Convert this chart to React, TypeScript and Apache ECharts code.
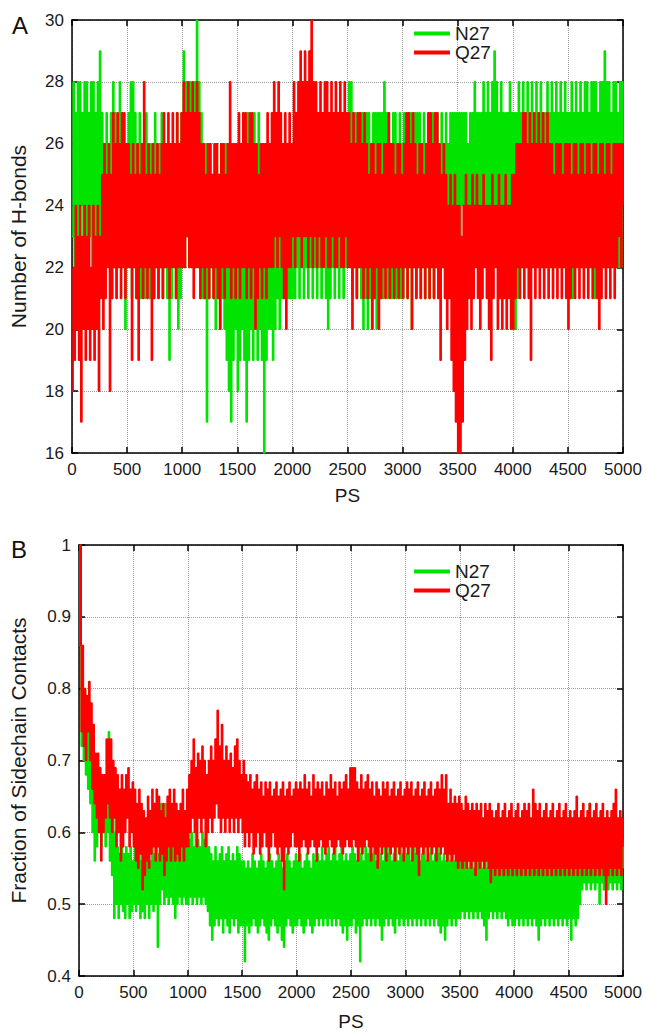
import React, { useEffect, useRef } from "react";
import * as echarts from "echarts";

// sampling interval of the traces (ps); samples alternate between the trough and crest of the fast fluctuations
const TIME_STEP_PS = 10;
const seriesNames = ["N27", "Q27"];
const FONT = "'Liberation Sans', Arial, Helvetica, sans-serif";

// Panel A: number of H-bonds (one row = 500 ps)
const hbondN27 = [
  23,28,22,27,23,28,22,28,24,27,22,28,23,28,22,27,23,28,22,28,23,27,22,28,23,29,22,27,22,26,22,27,23,26,22,27,22,28,22,27,21,26,22,28,22,27,22,26,20,26,
  22,27,22,28,21,28,22,27,21,26,22,27,21,26,22,26,21,27,22,26,21,26,22,26,21,27,22,26,21,26,22,27,21,26,22,26,21,26,19,26,21,26,22,26,21,27,20,26,21,27,
  22,29,22,28,23,28,22,28,22,27,22,28,22,30,22,28,21,27,21,26,21,26,17,26,21,26,22,25,21,26,20,26,21,25,20,26,21,26,20,26,19,26,18,25,17,26,19,26,20,25,
  18,26,19,26,20,27,19,26,17,27,19,26,20,26,19,27,20,26,19,27,20,26,19,26,16,26,19,26,20,25,20,26,19,25,20,26,21,26,20,26,21,26,21,25,21,26,21,26,21,25,
  21,26,21,27,22,26,21,26,22,27,21,26,22,26,21,27,22,26,21,26,22,27,21,26,22,26,21,27,22,26,21,26,20,27,21,26,22,26,21,27,22,27,21,26,22,27,21,27,22,27,
  22,28,22,28,21,27,22,27,21,26,22,27,21,27,20,27,21,27,20,27,21,26,20,27,21,27,20,27,21,27,21,27,21,28,22,27,21,27,22,26,21,27,22,27,21,26,22,27,21,26,
  21,27,22,26,21,27,22,27,20,26,22,27,21,27,22,27,21,26,22,27,21,26,22,27,21,26,22,27,21,26,22,27,21,26,22,27,22,26,22,27,22,26,23,27,22,27,23,27,23,27,
  23,27,23,27,24,27,23,27,21,26,24,27,23,27,24,28,23,27,24,27,23,27,24,28,23,27,24,28,23,27,24,28,23,29,24,28,23,27,24,28,23,27,24,27,23,27,24,28,23,27,
  22,27,20,27,21,28,22,27,22,28,22,27,22,28,22,27,22,28,22,27,22,28,22,27,22,28,22,27,22,27,22,28,22,27,22,28,22,27,22,28,22,27,22,28,22,27,22,28,22,27,
  22,27,22,28,21,27,22,28,22,27,22,28,22,27,22,28,22,28,22,27,22,28,22,28,21,28,22,27,22,28,22,28,22,29,22,28,22,28,22,27,22,28,22,28,22,27,22,28,22,28,
  26,
];
const hbondQ27 = [
  18,22,19,24,20,23,19,24,17,23,20,24,19,23,20,24,19,22,20,24,19,23,20,24,18,23,21,25,20,26,21,25,22,26,18,25,21,27,22,26,21,27,22,26,21,27,22,27,21,26,
  22,26,22,25,19,26,22,25,21,26,19,25,22,26,21,28,22,25,21,26,22,25,19,26,21,25,22,26,21,25,22,26,21,27,22,26,22,27,21,26,22,27,22,26,21,27,22,26,22,27,
  22,28,22,27,23,28,22,27,22,28,21,27,22,28,22,27,21,26,22,26,21,25,22,26,21,26,22,25,21,26,22,26,21,25,20,26,22,26,21,25,22,26,22,28,21,26,22,26,21,26,
  22,27,21,26,22,27,22,27,21,26,22,27,21,27,22,26,20,26,21,25,22,26,21,26,22,26,21,27,22,26,22,27,22,28,23,27,22,28,23,27,22,26,21,27,20,26,22,27,22,26,
  23,28,22,27,23,28,23,29,22,28,23,29,23,28,22,29,23,30,22,28,23,28,22,27,23,28,22,27,22,28,23,28,22,27,22,28,23,27,22,28,22,27,23,28,22,27,22,28,23,27,
  22,27,22,26,20,27,22,26,21,27,22,27,22,26,21,27,22,26,21,25,22,26,20,26,21,25,22,26,20,26,21,25,22,26,21,26,22,27,21,26,22,26,21,25,22,26,21,26,22,25,
  21,26,22,27,21,27,22,26,20,27,22,26,21,25,22,26,21,26,22,25,21,26,22,27,21,27,22,26,21,27,22,27,21,26,19,25,22,26,21,25,20,24,21,25,19,24,18,25,17,24,
  16,24,16,23,17,24,19,25,20,24,21,24,20,25,21,24,22,25,21,24,20,24,21,25,22,24,21,24,20,24,19,25,21,24,22,24,20,25,21,24,20,24,21,25,20,24,21,24,20,25,
  20,25,21,26,22,26,21,26,22,27,21,27,22,26,21,27,19,26,22,27,21,26,22,27,21,26,22,27,21,26,22,27,21,26,22,26,21,25,22,26,21,26,22,26,21,25,22,26,21,26,
  20,26,21,25,22,26,21,26,22,25,21,26,22,26,21,25,22,26,21,26,22,25,21,26,22,26,21,25,20,26,21,26,22,25,21,26,22,26,21,25,22,26,21,26,22,26,23,26,22,26,
  24,
];

// Panel B: fraction of sidechain contacts (one row = 500 ps)
const contactN27 = [
  0.86,1.0,0.72,0.80,0.70,0.80,0.68,0.79,0.66,0.76,0.64,0.72,0.60,0.70,0.56,0.66,0.58,0.66,0.60,0.65,0.58,0.66,0.60,0.65,0.58,0.66,0.60,0.74,0.56,0.66,0.54,0.62,0.48,0.60,0.50,0.58,0.48,0.57,0.50,0.58,0.49,0.57,0.48,0.58,0.50,0.57,0.48,0.58,0.49,0.56,
  0.50,0.58,0.49,0.57,0.50,0.58,0.48,0.56,0.49,0.58,0.48,0.57,0.50,0.58,0.48,0.56,0.50,0.58,0.49,0.57,0.50,0.58,0.44,0.57,0.50,0.64,0.52,0.63,0.50,0.64,0.51,0.60,0.50,0.58,0.51,0.60,0.50,0.59,0.48,0.58,0.50,0.60,0.51,0.58,0.50,0.60,0.51,0.58,0.50,0.60,
  0.50,0.59,0.51,0.60,0.50,0.58,0.51,0.60,0.50,0.59,0.51,0.58,0.50,0.60,0.51,0.59,0.50,0.60,0.49,0.58,0.47,0.57,0.45,0.56,0.47,0.58,0.48,0.56,0.47,0.57,0.48,0.58,0.46,0.56,0.48,0.57,0.47,0.58,0.46,0.56,0.48,0.57,0.47,0.56,0.48,0.58,0.46,0.57,0.47,0.56,
  0.47,0.56,0.42,0.55,0.47,0.56,0.46,0.55,0.47,0.57,0.48,0.56,0.47,0.55,0.46,0.56,0.47,0.57,0.48,0.56,0.47,0.55,0.46,0.56,0.45,0.57,0.47,0.56,0.48,0.55,0.47,0.56,0.46,0.57,0.47,0.56,0.45,0.55,0.44,0.56,0.47,0.57,0.48,0.56,0.47,0.55,0.46,0.56,0.47,0.57,
  0.47,0.56,0.48,0.57,0.47,0.55,0.46,0.56,0.47,0.57,0.48,0.56,0.47,0.55,0.46,0.57,0.47,0.56,0.48,0.57,0.47,0.56,0.48,0.58,0.47,0.56,0.48,0.57,0.47,0.58,0.48,0.56,0.47,0.57,0.48,0.58,0.47,0.56,0.48,0.57,0.47,0.58,0.46,0.56,0.47,0.57,0.45,0.56,0.47,0.57,
  0.47,0.58,0.48,0.57,0.46,0.56,0.47,0.58,0.42,0.57,0.47,0.56,0.48,0.58,0.47,0.57,0.48,0.59,0.47,0.57,0.48,0.58,0.47,0.56,0.48,0.58,0.47,0.57,0.45,0.56,0.47,0.58,0.48,0.57,0.47,0.58,0.48,0.56,0.47,0.57,0.46,0.58,0.48,0.56,0.47,0.58,0.48,0.57,0.47,0.58,
  0.48,0.57,0.47,0.58,0.48,0.56,0.47,0.58,0.48,0.57,0.47,0.58,0.48,0.56,0.47,0.57,0.48,0.58,0.47,0.56,0.48,0.57,0.47,0.58,0.48,0.56,0.47,0.57,0.48,0.58,0.47,0.57,0.46,0.56,0.47,0.57,0.45,0.56,0.47,0.57,0.48,0.56,0.47,0.57,0.48,0.56,0.47,0.57,0.48,0.56,
  0.48,0.57,0.49,0.56,0.48,0.57,0.49,0.55,0.48,0.56,0.49,0.57,0.48,0.55,0.49,0.56,0.48,0.57,0.49,0.56,0.48,0.55,0.47,0.56,0.45,0.55,0.48,0.56,0.49,0.55,0.48,0.56,0.49,0.57,0.48,0.55,0.49,0.56,0.48,0.55,0.49,0.56,0.48,0.55,0.47,0.56,0.48,0.55,0.47,0.56,
  0.47,0.55,0.48,0.56,0.47,0.57,0.48,0.56,0.47,0.57,0.48,0.56,0.47,0.58,0.48,0.57,0.47,0.56,0.48,0.57,0.47,0.58,0.45,0.56,0.47,0.57,0.48,0.58,0.47,0.56,0.48,0.57,0.47,0.58,0.48,0.56,0.47,0.57,0.48,0.58,0.47,0.56,0.48,0.57,0.47,0.58,0.48,0.56,0.47,0.57,
  0.48,0.56,0.45,0.57,0.48,0.56,0.47,0.57,0.48,0.56,0.50,0.58,0.52,0.60,0.53,0.59,0.52,0.60,0.53,0.64,0.52,0.60,0.53,0.59,0.52,0.60,0.53,0.59,0.50,0.60,0.53,0.59,0.52,0.60,0.53,0.59,0.52,0.60,0.53,0.59,0.52,0.60,0.53,0.59,0.52,0.60,0.53,0.58,0.52,0.59,
  0.55,
];
const contactQ27 = [
  0.86,1.0,0.74,0.86,0.72,0.80,0.70,0.79,0.74,0.81,0.70,0.78,0.66,0.75,0.64,0.71,0.62,0.71,0.60,0.69,0.56,0.68,0.60,0.68,0.62,0.73,0.64,0.73,0.62,0.73,0.60,0.70,0.62,0.69,0.58,0.68,0.60,0.66,0.56,0.68,0.58,0.66,0.60,0.68,0.62,0.69,0.58,0.66,0.60,0.67,
  0.58,0.66,0.56,0.64,0.55,0.66,0.57,0.64,0.52,0.63,0.54,0.62,0.56,0.65,0.55,0.63,0.57,0.66,0.58,0.64,0.56,0.66,0.58,0.65,0.56,0.63,0.57,0.64,0.54,0.62,0.56,0.65,0.58,0.66,0.56,0.64,0.58,0.66,0.56,0.64,0.57,0.63,0.56,0.64,0.58,0.66,0.56,0.63,0.58,0.66,
  0.58,0.68,0.60,0.70,0.62,0.73,0.60,0.69,0.58,0.71,0.62,0.70,0.60,0.72,0.62,0.70,0.58,0.68,0.60,0.70,0.62,0.72,0.60,0.70,0.62,0.73,0.64,0.77,0.62,0.72,0.60,0.75,0.62,0.70,0.60,0.72,0.62,0.70,0.60,0.71,0.62,0.69,0.60,0.72,0.62,0.73,0.60,0.70,0.62,0.68,
  0.60,0.70,0.58,0.68,0.60,0.67,0.58,0.68,0.60,0.66,0.57,0.67,0.58,0.68,0.60,0.66,0.57,0.67,0.58,0.65,0.60,0.67,0.58,0.66,0.56,0.67,0.58,0.65,0.60,0.66,0.58,0.67,0.57,0.65,0.58,0.66,0.56,0.67,0.52,0.65,0.58,0.66,0.57,0.67,0.58,0.65,0.60,0.66,0.58,0.67,
  0.58,0.66,0.56,0.67,0.58,0.66,0.59,0.68,0.58,0.66,0.57,0.67,0.58,0.65,0.59,0.68,0.58,0.66,0.56,0.67,0.58,0.66,0.59,0.67,0.58,0.65,0.57,0.67,0.58,0.66,0.59,0.68,0.58,0.66,0.57,0.67,0.58,0.65,0.59,0.67,0.58,0.66,0.57,0.67,0.58,0.68,0.59,0.66,0.58,0.69,
  0.58,0.69,0.59,0.69,0.58,0.67,0.56,0.66,0.58,0.68,0.57,0.66,0.58,0.67,0.59,0.68,0.58,0.66,0.56,0.67,0.58,0.65,0.57,0.67,0.55,0.66,0.58,0.65,0.57,0.67,0.58,0.66,0.56,0.67,0.58,0.65,0.57,0.66,0.58,0.67,0.56,0.65,0.58,0.66,0.57,0.67,0.58,0.65,0.56,0.66,
  0.58,0.67,0.57,0.66,0.58,0.67,0.56,0.65,0.58,0.66,0.57,0.67,0.54,0.65,0.58,0.66,0.57,0.67,0.58,0.65,0.56,0.66,0.58,0.67,0.57,0.65,0.58,0.66,0.56,0.67,0.58,0.66,0.57,0.68,0.58,0.66,0.57,0.68,0.56,0.64,0.57,0.66,0.56,0.64,0.57,0.65,0.56,0.64,0.55,0.65,
  0.56,0.64,0.55,0.63,0.56,0.65,0.55,0.64,0.56,0.63,0.55,0.64,0.56,0.63,0.54,0.64,0.56,0.63,0.55,0.64,0.56,0.62,0.55,0.64,0.56,0.63,0.55,0.64,0.53,0.63,0.55,0.62,0.54,0.63,0.55,0.64,0.54,0.62,0.55,0.63,0.54,0.64,0.55,0.62,0.54,0.63,0.55,0.64,0.54,0.62,
  0.55,0.63,0.54,0.64,0.55,0.62,0.54,0.63,0.55,0.64,0.54,0.63,0.55,0.64,0.54,0.62,0.55,0.66,0.54,0.64,0.55,0.63,0.54,0.64,0.55,0.62,0.54,0.63,0.55,0.64,0.54,0.62,0.55,0.63,0.54,0.64,0.55,0.62,0.54,0.63,0.55,0.64,0.54,0.62,0.55,0.63,0.54,0.64,0.55,0.62,
  0.54,0.63,0.55,0.62,0.54,0.63,0.55,0.65,0.54,0.62,0.55,0.63,0.54,0.64,0.55,0.62,0.54,0.63,0.55,0.64,0.54,0.62,0.55,0.63,0.54,0.64,0.55,0.62,0.54,0.63,0.55,0.64,0.54,0.62,0.50,0.63,0.54,0.62,0.55,0.63,0.54,0.64,0.55,0.66,0.54,0.62,0.55,0.63,0.54,0.62,
  0.58,
];

const GREEN = "#00e400";
const RED = "#ff0000";

const toPairs = (vals: number[]) => vals.map((v, i) => [i * TIME_STEP_PS, v]);

export default function App() {
  const ref = useRef<HTMLDivElement>(null);
  useEffect(() => {
    document.body.style.margin = "0";
    if (!ref.current) return;
    const chart = echarts.init(ref.current, null, { renderer: "svg" });
    const axisLine = { show: true, onZero: false, lineStyle: { color: "#000", width: 1.5 } };
    const axisTick = { show: true, inside: true, length: 6, lineStyle: { color: "#000", width: 1.5 } };
    const split = { show: true, lineStyle: { color: "#9a9a9a", type: "dotted", width: 1 } };
    const labelStyle = { fontSize: 17, color: "#1a1a1a", fontFamily: FONT };

    const xMain = (g: number, gap: number) => ({
      gridIndex: g, type: "value", min: 0, max: 5000, interval: 500, position: "bottom",
      name: "PS", nameLocation: "middle", nameGap: gap,
      nameTextStyle: { fontSize: 19, color: "#1a1a1a", fontFamily: FONT },
      axisLine, axisTick, splitLine: split,
      axisLabel: { ...labelStyle, margin: 8, formatter: (v: number) => String(v) },
    });
    const xTop = (g: number) => ({
      gridIndex: g, type: "value", min: 0, max: 5000, interval: 500, position: "top",
      axisLine, axisTick, splitLine: { show: false }, axisLabel: { show: false },
    });
    const yMain = (g: number, min: number, max: number, interval: number, name: string, gap: number, fmt: (v: number) => string) => ({
      gridIndex: g, type: "value", min, max, interval, position: "left",
      name, nameLocation: "middle", nameGap: gap,
      nameTextStyle: { fontSize: 21, color: "#1a1a1a", fontFamily: FONT },
      axisLine, axisTick, splitLine: split,
      axisLabel: { ...labelStyle, margin: 8, formatter: fmt },
    });
    const yRight = (g: number, min: number, max: number, interval: number) => ({
      gridIndex: g, type: "value", min, max, interval, position: "right",
      axisLine, axisTick, splitLine: { show: false }, axisLabel: { show: false },
    });
    const line = (name: string, color: string, data: number[], xi: number, yi: number) => ({
      name, type: "line", xAxisIndex: xi, yAxisIndex: yi, step: "end",
      showSymbol: false, symbol: "none", data: toPairs(data),
      lineStyle: { color, width: 1.6 }, itemStyle: { color },
    });
    const legend = (top: number) => ({
      data: seriesNames, orient: "vertical", left: 414, top, itemGap: 0,
      itemWidth: 36, itemHeight: 4, icon: "rect", itemStyle: { borderWidth: 0 },
      textStyle: { fontSize: 19, color: "#1a1a1a", fontFamily: FONT, lineHeight: 19, padding: [0, 0, 0, 0] },
      padding: 0,
    });

    chart.setOption({
      animation: false,
      backgroundColor: "#fff",
      grid: [
        { left: 71, top: 20, width: 552, height: 433, show: false },
        { left: 71, top: 545, width: 552, height: 433, show: false },
      ],
      xAxis: [xMain(0, 33), xTop(0), xMain(1, 36), xTop(1)],
      yAxis: [
        yMain(0, 16, 30, 2, "Number of H-bonds", 43, (v: number) => String(v)),
        yRight(0, 16, 30, 2),
        yMain(1, 0.4, 1, 0.1, "Fraction of Sidechain Contacts", 50, (v: number) => String(Math.round(v * 10) / 10)),
        yRight(1, 0.4, 1, 0.1),
      ],
      legend: [legend(24), legend(562)],
      series: [
        line("N27", GREEN, hbondN27, 0, 0),
        line("Q27", RED, hbondQ27, 0, 0),
        line("N27", GREEN, contactN27, 2, 2),
        line("Q27", RED, contactQ27, 2, 2),
      ],
      graphic: [
        { type: "text", left: 12, top: 13, style: { text: "A", fill: "#111", font: `24px ${FONT}` } },
        { type: "text", left: 11, top: 537, style: { text: "B", fill: "#111", font: `24px ${FONT}` } },
      ],
    });
    return () => chart.dispose();
  }, []);
  return <div ref={ref} style={{ width: 647, height: 1032 }} />;
}
